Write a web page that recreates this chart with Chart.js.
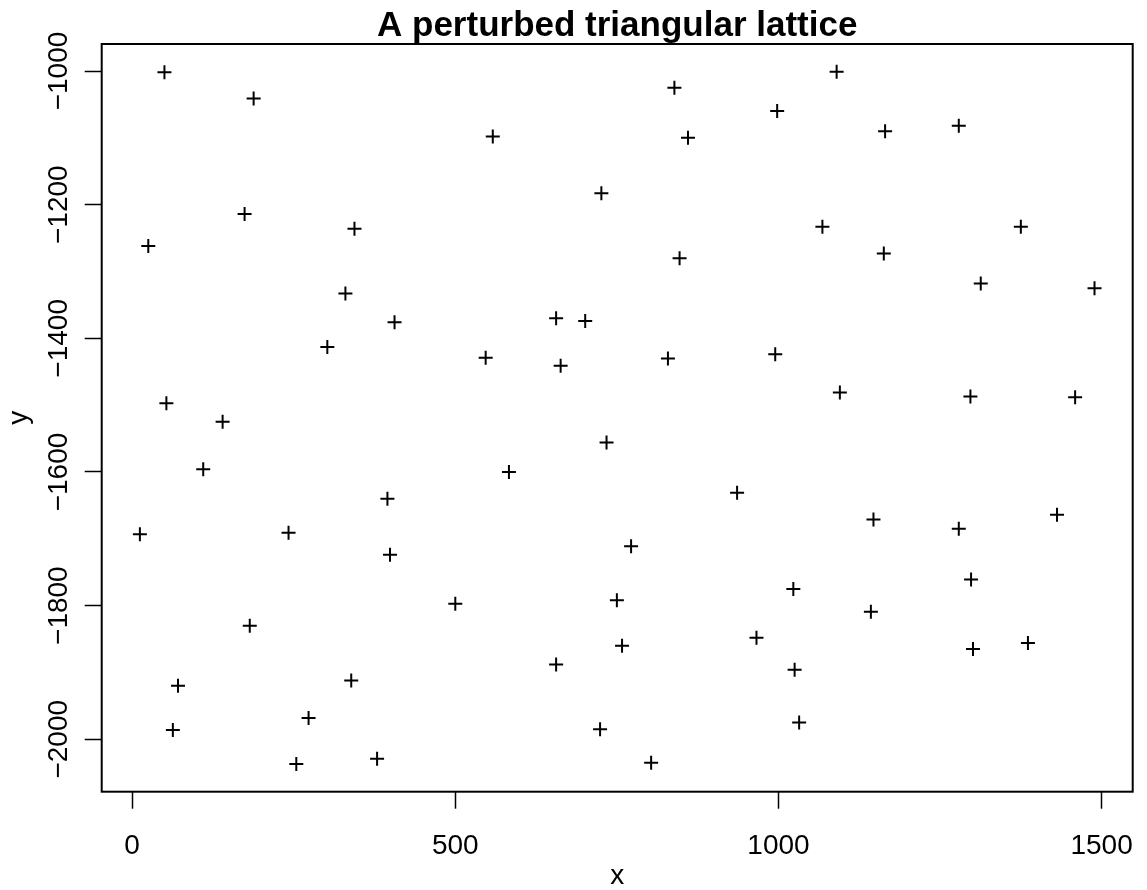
<!DOCTYPE html>
<html>
<head>
<meta charset="utf-8">
<title>A perturbed triangular lattice</title>
<script src="https://cdn.jsdelivr.net/npm/chart.js@4/dist/chart.umd.min.js"></script>
<style>
  html, body { margin: 0; padding: 0; background: #ffffff; }
  #wrap { width: 1147px; height: 890px; }
</style>
</head>
<body>
<div id="wrap"><canvas id="c" width="1147" height="890"></canvas></div>
<script>
// Lattice point coordinates
const xValues = [
  50, 188, 174, 344, 25, 330,
  839, 998, 558, 860, 726, 847,
  1090, 1165, 1279, 1068, 1375, 1163, 1313, 1489,
  406, 302, 53, 140, 110, 395, 12, 242,
  656, 701, 547, 663, 829, 995, 734, 583, 936, 772,
  1095, 1297, 1459, 1147, 1279, 1431,
  399, 182, 339, 71, 273, 63, 379, 254,
  500, 750, 966, 758, 656, 724, 803,
  1023, 1298, 1143, 1301, 1386, 1025, 1032
];
const yValues = [
  -1002, -1041, -1214, -1236, -1262, -1333,
  -1025, -1060, -1098, -1100, -1183, -1280,
  -1001, -1090, -1082, -1233, -1233, -1273, -1318, -1325,
  -1376, -1413, -1497, -1525, -1596, -1640, -1693, -1691,
  -1370, -1374, -1429, -1441, -1430, -1424, -1556, -1600, -1631, -1711,
  -1481, -1487, -1488, -1671, -1685, -1664,
  -1724, -1830, -1912, -1920, -1968, -1986, -2029, -2037,
  -1797, -1792, -1848, -1860, -1888, -1985, -2035,
  -1775, -1761, -1809, -1865, -1856, -1896, -1975
];
const xTicks = [0, 500, 1000, 1500];
const yTicks = [-2000, -1800, -1600, -1400, -1200, -1000];

const FONT = "'Liberation Sans', Arial, Helvetica, sans-serif";

// axis limits: data range widened by 4% on each side
function paddedRange(vals) {
  const lo = Math.min(...vals), hi = Math.max(...vals), s = hi - lo;
  return [lo - 0.04 * s, hi + 0.04 * s];
}
const [xMin, xMax] = paddedRange(xValues);
const [yMin, yMax] = paddedRange(yValues);

const points = xValues.map((x, i) => ({ x: x, y: yValues[i] }));

const fmt = v => String(v).replace('-', '\u2212');

// frame around the plotting region
const framePlugin = {
  id: 'frame',
  afterDraw(chart) {
    const { ctx, chartArea: a } = chart;
    ctx.save();
    ctx.strokeStyle = '#000000';
    ctx.lineWidth = 2;
    ctx.strokeRect(a.left, a.top, a.right - a.left, a.bottom - a.top);
    ctx.restore();
  }
};

new Chart(document.getElementById('c'), {
  type: 'scatter',
  data: {
    datasets: [{
      data: points,
      pointStyle: 'cross',
      pointRadius: 7,
      pointHoverRadius: 7,
      borderColor: '#000000',
      backgroundColor: '#000000',
      pointBorderWidth: 2,
      showLine: false
    }]
  },
  options: {
    responsive: false,
    animation: false,
    devicePixelRatio: 1,
    events: [],
    layout: { padding: { left: 0, right: 14.3, top: 0, bottom: 0 } },
    plugins: {
      legend: { display: false },
      tooltip: { enabled: false },
      title: {
        display: true,
        text: 'A perturbed triangular lattice',
        color: '#000000',
        fullSize: false,
        font: { family: FONT, size: 35, weight: 'bold' },
        padding: { top: 5, bottom: -3 }
      }
    },
    scales: {
      x: {
        type: 'linear',
        position: 'bottom',
        min: xMin,
        max: xMax,
        afterBuildTicks: s => { s.ticks = xTicks.map(v => ({ value: v })); },
        afterFit: s => { s.height = 98.3; s.paddingLeft = 0; s.paddingRight = 0; },
        border: { display: false },
        grid: {
          display: true,
          drawOnChartArea: false,
          drawTicks: true,
          tickLength: 17,
          tickWidth: 1.5,
          tickColor: '#000000'
        },
        ticks: {
          autoSkip: false,
          maxRotation: 0,
          minRotation: 0,
          padding: 21,
          color: '#000000',
          font: { family: FONT, size: 28 },
          callback: v => fmt(v)
        },
        title: {
          display: true,
          text: 'x',
          color: '#000000',
          font: { family: FONT, size: 28 },
          padding: { top: 0, bottom: -3 }
        }
      },
      y: {
        type: 'linear',
        position: 'left',
        min: yMin,
        max: yMax,
        afterBuildTicks: s => { s.ticks = yTicks.map(v => ({ value: v })); },
        afterFit: s => { s.width = 101.7; s.paddingTop = 0; s.paddingBottom = 0; },
        border: { display: false },
        grid: {
          display: true,
          drawOnChartArea: false,
          drawTicks: true,
          tickLength: 17,
          tickWidth: 1.5,
          tickColor: '#000000'
        },
        ticks: {
          autoSkip: false,
          minRotation: 90,
          maxRotation: 90,
          crossAlign: 'center',
          padding: -14,
          color: '#000000',
          font: { family: FONT, size: 28 },
          callback: v => fmt(v)
        },
        title: {
          display: true,
          text: 'y',
          color: '#000000',
          font: { family: FONT, size: 28 },
          padding: { top: 2, bottom: 0 }
        }
      }
    }
  },
  plugins: [framePlugin]
});
</script>
</body>
</html>
